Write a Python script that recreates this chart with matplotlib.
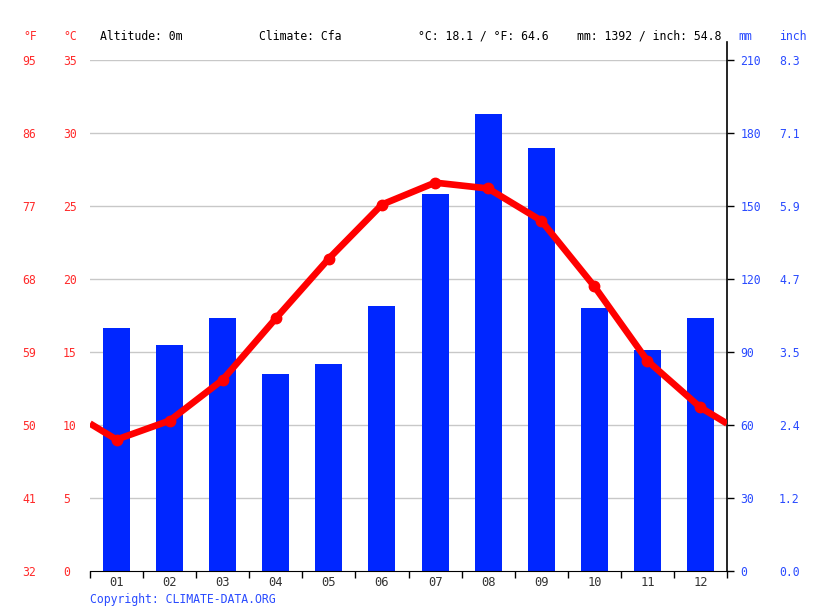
import matplotlib.pyplot as plt
import numpy as np

# monthly data
months = ['01', '02', '03', '04', '05', '06', '07', '08', '09', '10', '11', '12']
temp_c = [9.0, 10.3, 13.1, 17.3, 21.4, 25.1, 26.6, 26.2, 24.0, 19.5, 14.4, 11.2]
precip_mm = [100, 93, 104, 81, 85, 109, 155, 188, 174, 108, 91, 104]
c_ticks = [0, 5, 10, 15, 20, 25, 30, 35]
mm_ticks = [0, 30, 60, 90, 120, 150, 180, 210]

header = {'altitude': 'Altitude: 0m', 'climate': 'Climate: Cfa',
          'temp': '°C: 18.1 / °F: 64.6', 'rain': 'mm: 1392 / inch: 54.8'}

RED = '#ff0000'
RED_TXT = '#ff2a2a'
BLUE = '#0026ff'
BLUE_TXT = '#2a4bff'
FONT = 'DejaVu Sans Mono'
FS = 8.3

plt.rcParams['font.family'] = FONT
plt.rcParams['font.size'] = FS

W, H = 815, 611
fig = plt.figure(figsize=(W / 100, H / 100), dpi=100)
ax = fig.add_axes([90 / W, 40 / H, (727 - 90) / W, (571 - 60) / H])

x = np.arange(12) + 0.5

# grid under the bars
for v in mm_ticks[1:]:
    ax.axhline(v, color='#c8c8c8', lw=1, zorder=1)

# precipitation bars on the mm axis
ax.bar(x, precip_mm, width=0.51, color=BLUE, zorder=2)
ax.set_ylim(0, 210)
ax.set_xlim(0, 12)

# temperature line on a twin axis, with wrap-around ends
axt = ax.twinx()
axt.set_ylim(0, 35)
edge = (temp_c[0] + temp_c[-1]) / 2
axt.plot(np.r_[0, x, 12], np.r_[edge, temp_c, edge], color=RED, lw=4.8,
         solid_capstyle='butt', zorder=3)
axt.plot(x, temp_c, 'o', color=RED, ms=7.5, zorder=4)

# spines
for a in (ax, axt):
    for s in a.spines.values():
        s.set_visible(False)
ax.spines['bottom'].set_visible(True)
ax.spines['bottom'].set_color('black')
ax.plot([1, 1], [0, 1.035], transform=ax.transAxes, color='black', lw=1.2,
        clip_on=False, zorder=5)

# x ticks: marks at boundaries, labels at centres
ax.set_xticks(np.arange(13))
ax.set_xticklabels([''] * 13)
ax.tick_params(axis='x', length=5, width=1, color='black', direction='out')
for xi, m in zip(x, months):
    ax.annotate(m, (xi, 0), xycoords=ax.get_xaxis_transform(),
                xytext=(0, -8), textcoords='offset points', ha='center',
                va='center', color='#333333', fontsize=FS + 0.4)

# right: mm
ax.yaxis.tick_right()
ax.set_yticks(mm_ticks)
ax.set_yticklabels([str(v) for v in mm_ticks], color=BLUE_TXT)
ax.tick_params(axis='y', length=5, width=1, color='black', pad=4.5)

# right: inch
sec_in = ax.secondary_yaxis('right', functions=(lambda v: v / 25.4, lambda v: v * 25.4))
sec_in.set_yticks([v / 25.4 for v in mm_ticks])
sec_in.set_yticklabels(['%.1f' % (v / 25.4) for v in mm_ticks], color=BLUE_TXT)
sec_in.tick_params(length=0, pad=37.5)
sec_in.spines['right'].set_visible(False)

# left: °C
axt.yaxis.tick_left()
axt.set_yticks(c_ticks)
axt.set_yticklabels([str(v) for v in c_ticks], color=RED_TXT)
axt.tick_params(axis='y', length=0, pad=19.5)
for lab in axt.get_yticklabels():
    lab.set_ha('left')

# left: °F
sec_f = axt.secondary_yaxis('left', functions=(lambda v: v * 9 / 5 + 32, lambda v: (v - 32) * 5 / 9))
sec_f.set_yticks([c * 9 / 5 + 32 for c in c_ticks])
sec_f.set_yticklabels(['%d' % (c * 9 / 5 + 32) for c in c_ticks], color=RED_TXT)
sec_f.tick_params(length=0, pad=48.5)
sec_f.spines['left'].set_visible(False)
for lab in sec_f.get_yticklabels():
    lab.set_ha('left')

# header row
ty = 1 - 36 / H
fig.text(23 / W, ty, '°F', color=RED_TXT, va='center')
fig.text(63 / W, ty, '°C', color=RED_TXT, va='center')
fig.text(100 / W, ty, header['altitude'], color='black', va='center')
fig.text(259 / W, ty, header['climate'], color='black', va='center')
fig.text(418 / W, ty, header['temp'], color='black', va='center')
fig.text(577 / W, ty, header['rain'], color='black', va='center')
fig.text(738 / W, ty, 'mm', color=BLUE_TXT, va='center')
fig.text(779 / W, ty, 'inch', color=BLUE_TXT, va='center')

fig.text(90 / W, 1 - 599 / H, 'Copyright: CLIMATE-DATA.ORG', color=BLUE_TXT, va='center')

fig.savefig('out.png', dpi=100)
